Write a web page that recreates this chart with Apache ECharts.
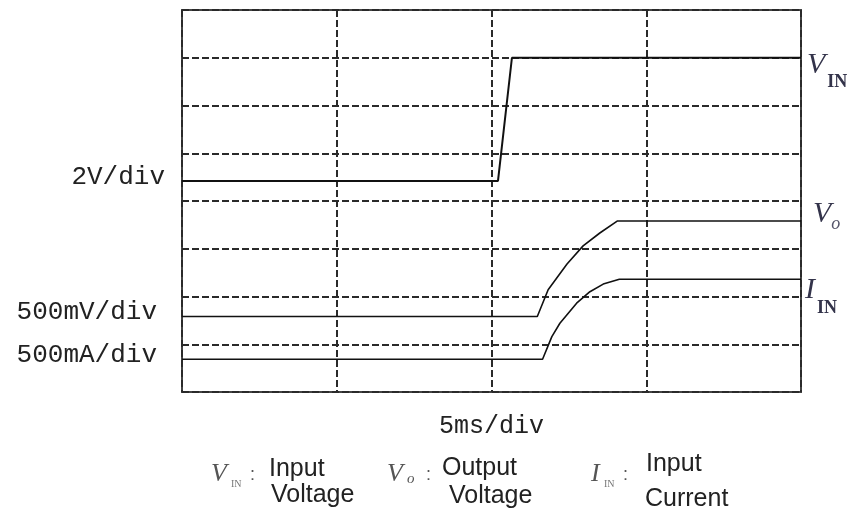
<!DOCTYPE html>
<html>
<head>
<meta charset="utf-8">
<script src="https://cdn.jsdelivr.net/npm/echarts@6/dist/echarts.min.js"></script>
<style>
html,body{margin:0;padding:0;background:#fff;}
#c{width:857px;height:520px;}
</style>
</head>
<body>
<div id="c"></div>
<script>
// time axis: ms (5 ms per division, 4 divisions)
const xTicks = [0, 5, 10, 15, 20];
// vertical: 8 divisions
const yDivs = 8;
// traces: [time ms, divisions from bottom]
const vinTime = [0, 10.21, 10.66, 20];
const vinDiv  = [4.42, 4.42, 7.0, 7.0];
const voTime  = [0, 11.48, 11.83, 12.44, 12.96, 13.5, 14.06, 20];
const voDiv   = [1.58, 1.58, 2.14, 2.68, 3.06, 3.33, 3.58, 3.58];
const iinTime = [0, 11.65, 11.95, 12.21, 12.75, 13.18, 13.61, 14.13, 20];
const iinDiv  = [0.685, 0.685, 1.16, 1.44, 1.86, 2.10, 2.26, 2.36, 2.36];
// labels
const scaleLabels = ['2V/div', '500mV/div', '500mA/div'];
const timeLabel = '5ms/div';

const zip = (a, b) => a.map((v, i) => [v, b[i]]);
const mono = '"Liberation Mono", "DejaVu Sans Mono", monospace';
const serif = '"Liberation Serif", "DejaVu Serif", serif';
const sans = '"Liberation Sans", Arial, sans-serif';

function trace(name, data, leftLabel, leftDist, endRich, endOffset, width) {
  return {
    name, type: 'line', data,
    showSymbol: true, showAllSymbol: true, symbol: 'circle', symbolSize: 0,
    lineStyle: { color: '#111', width: width },
    itemStyle: { color: '#111' },
    silent: true, animation: false,
    label: {
      show: true, position: 'left', distance: leftDist,
      fontFamily: mono, fontSize: 26, color: '#222', offset: [0, -4],
      formatter: p => p.dataIndex === 0 ? leftLabel : ''
    },
    endLabel: {
      show: true, distance: 6, offset: endOffset,
      formatter: endRich,
      rich: {
        v: { fontFamily: serif, fontStyle: 'italic', fontSize: 30, color: '#33334a', verticalAlign: 'bottom', padding: [0, 2, 12, 0] },
        vo: { fontFamily: serif, fontStyle: 'italic', fontSize: 30, color: '#33334a', verticalAlign: 'bottom', padding: [0, 0, 4, 0] },
        s: { fontFamily: serif, fontWeight: 'bold', fontSize: 18, color: '#33334a', verticalAlign: 'bottom' },
        o: { fontFamily: serif, fontStyle: 'italic', fontSize: 18, color: '#55556a', verticalAlign: 'bottom' }
      }
    }
  };
}

const chart = echarts.init(document.getElementById('c'), null, { renderer: 'canvas' });
const dash = { color: '#2a2a2a', width: 2, type: [7, 3] };
chart.setOption({
  animation: false,
  backgroundColor: '#fff',
  grid: { left: 182, top: 10, width: 619, height: 382, show: true, borderColor: '#444', borderWidth: 2, backgroundColor: 'transparent' },
  xAxis: {
    type: 'value', min: xTicks[0], max: xTicks[xTicks.length - 1], interval: xTicks[1] - xTicks[0],
    axisLine: { show: false }, axisTick: { show: false }, axisLabel: { show: false },
    splitLine: { show: true, lineStyle: dash },
    name: timeLabel, nameLocation: 'middle', nameGap: 22,
    nameTextStyle: { fontFamily: mono, fontSize: 25, color: '#222' }
  },
  yAxis: {
    type: 'value', min: 0, max: yDivs, interval: 1,
    axisLine: { show: false }, axisTick: { show: false }, axisLabel: { show: false },
    splitLine: { show: true, lineStyle: dash }
  },
  series: [
    trace('VIN', zip(vinTime, vinDiv), scaleLabels[0], 17, () => '{v|V}{s|IN}', [0, 13], 2),
    trace('Vo', zip(voTime, voDiv), scaleLabels[1], 25, () => '{vo|V}{o|o}', [6, -5], 1.6),
    trace('IIN', zip(iinTime, iinDiv), scaleLabels[2], 25, () => '{v|I}{s|IN}', [-2, 17], 1.6)
  ],
  graphic: [
    // legend row
    { type: 'text', left: 211, top: 461, style: { text: 'V', font: 'italic 26px ' + serif, fill: '#555' } },
    { type: 'text', left: 231, top: 479, style: { text: 'IN', font: '10px ' + serif, fill: '#777' } },
    { type: 'text', left: 250, top: 466, style: { text: ':', font: '18px ' + sans, fill: '#555' } },
    { type: 'text', left: 269, top: 457, style: { text: 'Input', font: '25px ' + sans, fill: '#222' } },
    { type: 'text', left: 271, top: 483, style: { text: 'Voltage', font: '25px ' + sans, fill: '#222' } },

    { type: 'text', left: 387, top: 461, style: { text: 'V', font: 'italic 26px ' + serif, fill: '#555' } },
    { type: 'text', left: 407, top: 472, style: { text: 'o', font: 'italic 15px ' + serif, fill: '#555' } },
    { type: 'text', left: 426, top: 466, style: { text: ':', font: '18px ' + sans, fill: '#555' } },
    { type: 'text', left: 442, top: 456, style: { text: 'Output', font: '25px ' + sans, fill: '#222' } },
    { type: 'text', left: 449, top: 484, style: { text: 'Voltage', font: '25px ' + sans, fill: '#222' } },

    { type: 'text', left: 591, top: 461, style: { text: 'I', font: 'italic 26px ' + serif, fill: '#555' } },
    { type: 'text', left: 604, top: 479, style: { text: 'IN', font: '10px ' + serif, fill: '#777' } },
    { type: 'text', left: 623, top: 466, style: { text: ':', font: '18px ' + sans, fill: '#555' } },
    { type: 'text', left: 646, top: 452, style: { text: 'Input', font: '25px ' + sans, fill: '#222' } },
    { type: 'text', left: 645, top: 487, style: { text: 'Current', font: '25px ' + sans, fill: '#222' } }
  ]
});
</script>
</body>
</html>
